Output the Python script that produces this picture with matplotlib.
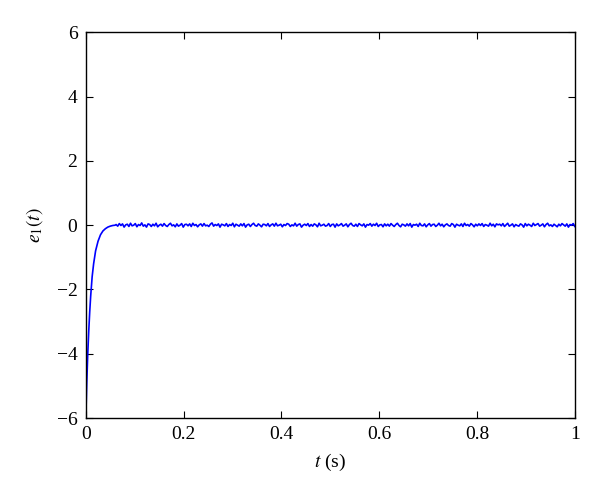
import numpy as np
import matplotlib.pyplot as plt

plt.rcParams['font.family'] = ['Liberation Serif', 'DejaVu Serif']
plt.rcParams['mathtext.fontset'] = 'stix'

# transient part of the error signal
t_rise = [0.0, 0.001, 0.002, 0.004, 0.006, 0.008, 0.010, 0.013, 0.016, 0.020,
          0.025, 0.030, 0.035, 0.040, 0.045, 0.050, 0.055, 0.060]
e_rise = [-6.0, -5.4, -4.9, -4.0, -3.3, -2.7, -2.2, -1.6, -1.2, -0.8,
          -0.5, -0.3, -0.18, -0.11, -0.06, -0.03, -0.01, 0.0]

# small jitter around zero for the steady state
e_steady = [
    0.02, -0.03, 0.05, -0.01, 0.04, -0.06, 0.01, 0.03, -0.04, 0.06, -0.02, 0.00,
    0.05, -0.05, 0.02, -0.01, 0.07, -0.03, 0.01, -0.06, 0.04, 0.02, -0.04, 0.03,
    -0.02, 0.06, -0.05, 0.00, 0.03, -0.03, 0.05, -0.01, -0.04, 0.02, 0.06, -0.02,
    0.01, -0.05, 0.04, -0.03, 0.00, 0.05, -0.06, 0.02, 0.03, -0.02, 0.04, -0.04,
    0.06, -0.01, 0.02, -0.05, 0.01, 0.04, -0.03, 0.05, -0.02, 0.00, -0.04, 0.03,
    0.07, -0.03, 0.02, -0.01, 0.04, -0.06, 0.03, 0.01, -0.02, 0.05, -0.04, 0.02,
    -0.01, 0.06, -0.05, 0.03, 0.00, -0.03, 0.04, -0.02, 0.05, -0.06, 0.01, 0.03,
    -0.04, 0.02, 0.06, -0.01, -0.03, 0.04, 0.00, -0.05, 0.03, 0.02, -0.02, 0.05,
    -0.04, 0.01, 0.04, -0.03, 0.06, -0.02, 0.00, 0.03, -0.05, 0.02, -0.01, 0.05,
    0.03, -0.04, 0.01, -0.02, 0.06, -0.03, 0.02, 0.04, -0.06, 0.00, 0.03, -0.01,
    0.05, -0.04, 0.02, -0.03, 0.04, 0.01, -0.05, 0.06, -0.02, 0.00, 0.03, -0.03,
    -0.01, 0.05, -0.04, 0.02, 0.03, -0.06, 0.04, -0.02, 0.01, 0.05, -0.03, 0.00,
    0.04, -0.05, 0.02, 0.06, -0.01, -0.03, 0.03, -0.04, 0.05, 0.01, -0.02, 0.04,
    -0.06, 0.02, 0.00, 0.05, -0.03, 0.03, -0.01, 0.06, -0.04, 0.01, 0.02, -0.05,
    0.04, -0.02, 0.03, -0.03, 0.05, 0.00, -0.04, 0.02, 0.06, -0.01, -0.05, 0.03,
    0.01, -0.03, 0.04, -0.02, 0.05, -0.06, 0.02, 0.00, 0.03, -0.04, 0.06, -0.01,
    -0.02, 0.04, -0.05, 0.01, 0.05, -0.03, 0.02, 0.03, -0.04, 0.00, 0.06, -0.02,
    0.03, -0.05, 0.01, 0.04, -0.01, -0.03, 0.05, 0.02, -0.06, 0.03, 0.00, -0.02,
    0.04, -0.04, 0.06, -0.01, 0.02, -0.03, 0.05, 0.01, -0.05, 0.03, -0.02, 0.04,
    -0.01, 0.05, -0.04, 0.02, 0.00, -0.03, 0.06, -0.02, 0.03, -0.05, 0.04, 0.01,
    0.03, -0.02, 0.05, -0.04, 0.01, 0.06, -0.03, 0.00, 0.04, -0.05, 0.02, -0.01,
    -0.03, 0.04, 0.01, -0.06, 0.05, -0.02, 0.03, 0.00, -0.04, 0.06, -0.01, 0.02,
    0.05, -0.03, 0.00, 0.04, -0.05, 0.02, 0.06, -0.02, 0.01, -0.04, 0.03, -0.01,
    -0.05, 0.03, -0.02, 0.05, 0.01, -0.03, 0.04, -0.06, 0.02, 0.00, 0.05, -0.04,
]
t_steady = np.linspace(0.062, 1.0, len(e_steady))

t = np.concatenate([t_rise, t_steady])
e = np.concatenate([e_rise, e_steady])

fig = plt.figure(figsize=(6, 4.96), dpi=100)
ax = fig.add_axes([0.143, 0.157, 0.815, 0.778])
ax.plot(t, e, color='#0000ff', lw=1.2)

ax.set_xlim(0, 1)
ax.set_ylim(-6, 6)
ax.set_xticks([0, 0.2, 0.4, 0.6, 0.8, 1])
ax.set_xticklabels(['0', '0.2', '0.4', '0.6', '0.8', '1'])
ax.set_yticks([-6, -4, -2, 0, 2, 4, 6])
ax.set_yticklabels(['\u22126', '\u22124', '\u22122', '0', '2', '4', '6'])
ax.tick_params(direction='in', top=True, right=True, length=5, width=0.8,
               labelsize=14, pad=6)
for s in ax.spines.values():
    s.set_linewidth(1.0)

ax.set_xlabel('$t$ (s)', fontsize=14, labelpad=6)
ax.set_ylabel('$e_1(t)$', fontsize=14, labelpad=8)

fig.savefig('out.png', dpi=100)
